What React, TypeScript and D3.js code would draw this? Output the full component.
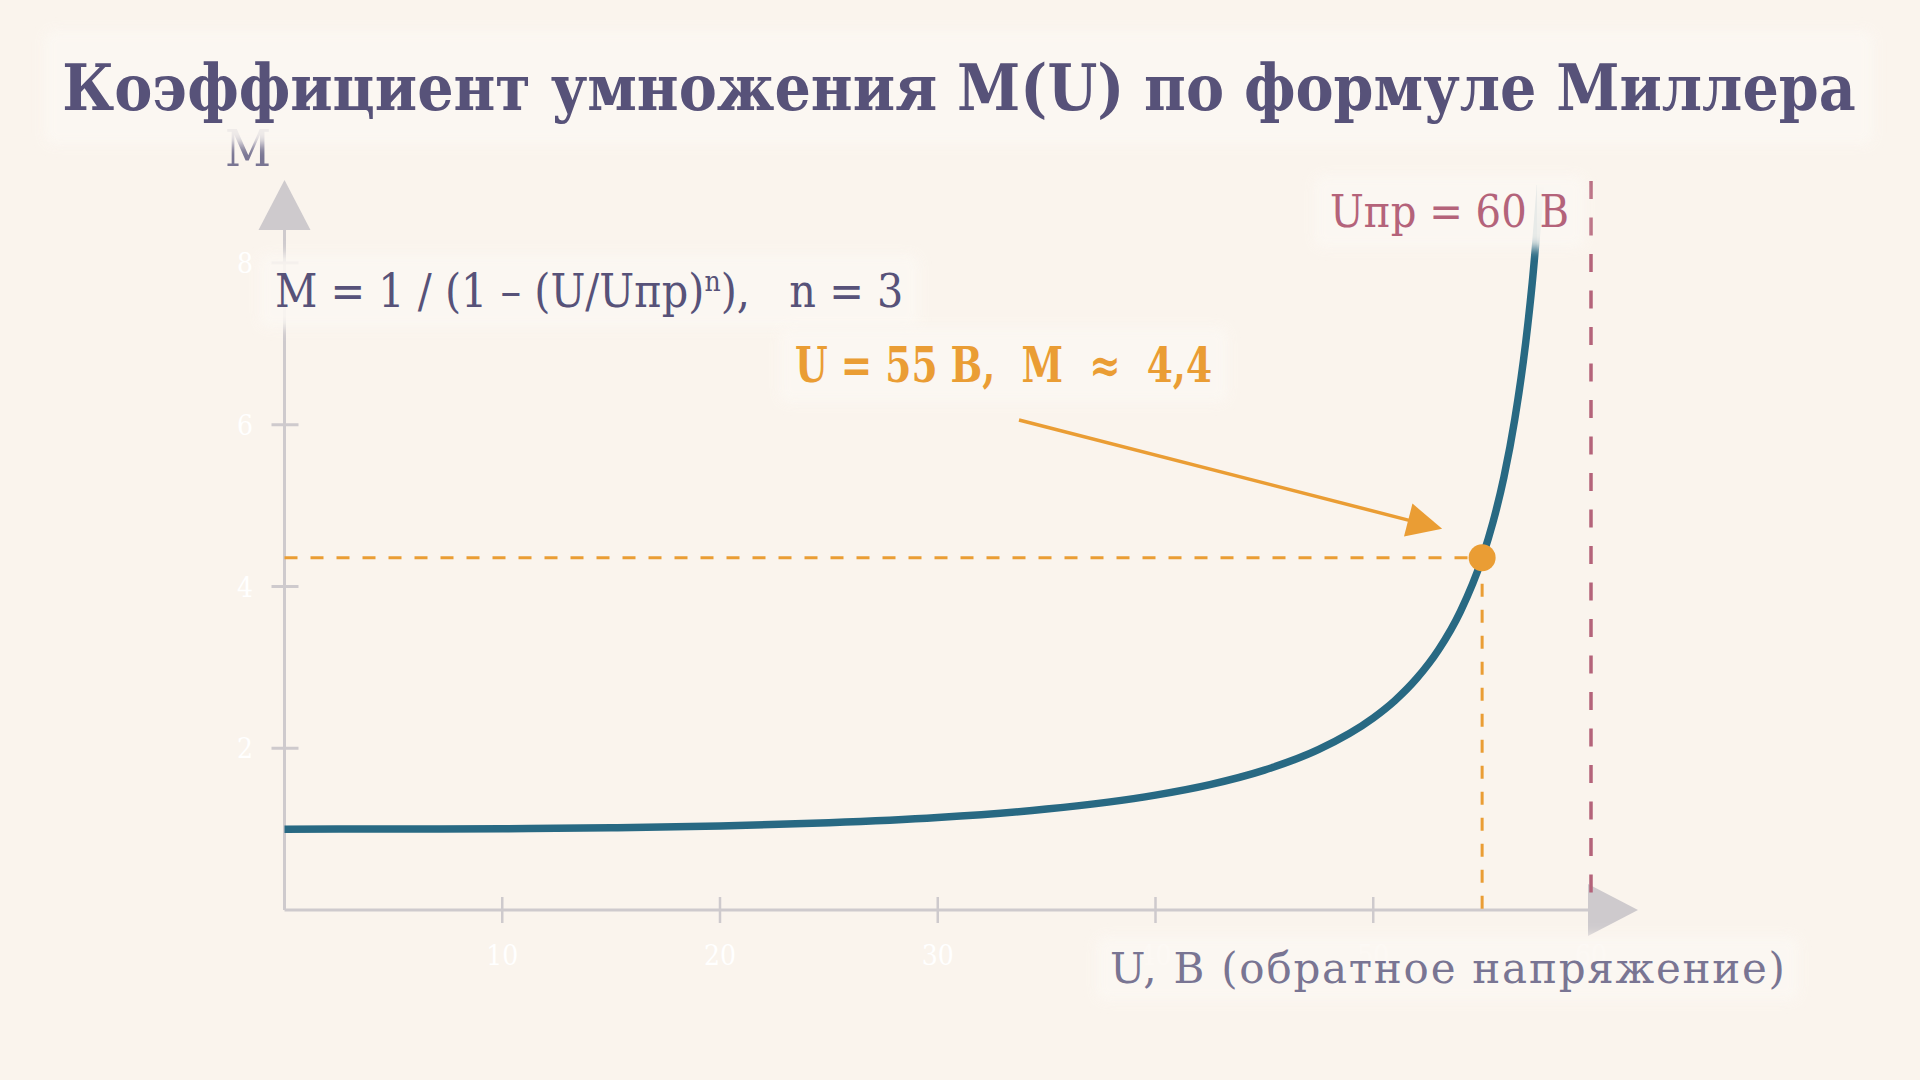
import { useEffect, useRef } from 'react'
import * as d3 from 'd3'

// values: U (volts) and multiplication factor M
const uValues = [0, 5, 10, 15, 20, 25, 30, 35, 40, 42.5, 45, 47.5, 50, 51, 52, 53, 54, 55, 55.5, 56, 56.5, 57, 57.3, 57.7]
const mValues = [1.0, 1.001, 1.005, 1.016, 1.038, 1.078, 1.143, 1.248, 1.421, 1.551, 1.73, 1.985, 2.374, 2.591, 2.865, 3.218, 3.69, 4.351, 4.796, 5.35, 6.068, 7.013, 7.75, 9.03]

const xTicks = [10, 20, 30, 40, 50, 60]
const yTicks = [2, 4, 6, 8]

const markU = [55]
const markM = [4.355]
const breakdownU = [60]

const titleText = 'Коэффициент умножения M(U) по формуле Миллера'
const formulaParts = ['M = 1 / (1 – (U/Uпр)', 'n', '),   n = 3']
const markLabel = 'U = 55 В,  M  ≈  4,4'
const breakdownLabel = 'Uпр = 60 В'
const xAxisLabel = 'U, В (обратное напряжение)'
const yAxisLabel = 'M'

const W = 1920
const H = 1080
const FONT = "'DejaVu Serif', serif"
const FONT_NARROW = "'DejaVu Serif Condensed', 'DejaVu Serif', serif"

const C = {
  bg: '#faf4ed',
  box: '#fcf8f3',
  text: '#575279',
  subtle: '#797593',
  axis: '#cecacd',
  curve: '#286983',
  gold: '#ea9d34',
  love: '#b4637a',
}

type G = d3.Selection<SVGGElement, unknown, null, undefined>
type T = d3.Selection<SVGTextElement, unknown, null, undefined>

export default function App() {
  const svgRef = useRef<SVGSVGElement>(null)

  useEffect(() => {
    if (!svgRef.current) return
    const svg = d3.select(svgRef.current)
    svg.selectAll('*').remove()

    const x = d3.scaleLinear().domain([0, 60]).range([284.5, 1591])
    const y = d3.scaleLinear().domain([0, 8]).range([910, 263])

    const defs = svg.append('defs')
    defs
      .append('filter')
      .attr('id', 'halo')
      .attr('x', '-20%')
      .attr('y', '-40%')
      .attr('width', '140%')
      .attr('height', '180%')
      .append('feGaussianBlur')
      .attr('stdDeviation', 6)
    defs
      .append('clipPath')
      .attr('id', 'plot-clip')
      .append('rect')
      .attr('x', x(0) - 10)
      .attr('y', 185)
      .attr('width', x(60) - x(0) + 20)
      .attr('height', y(0) - 185 + 10)

    const topFade = defs
      .append('linearGradient')
      .attr('id', 'top-fade')
      .attr('x1', 0)
      .attr('x2', 0)
      .attr('y1', 0)
      .attr('y2', 1)
    topFade.append('stop').attr('offset', '0%').attr('stop-color', '#eff0ec').attr('stop-opacity', 1)
    topFade.append('stop').attr('offset', '100%').attr('stop-color', '#eff0ec').attr('stop-opacity', 0)

    svg.append('rect').attr('width', W).attr('height', H).attr('fill', C.bg)

    // axes
    const axisG = svg.append('g')
    axisG
      .append('line')
      .attr('x1', x(0))
      .attr('x2', 1588)
      .attr('y1', y(0))
      .attr('y2', y(0))
      .attr('stroke', C.axis)
      .attr('stroke-width', 3)
    axisG
      .append('line')
      .attr('x1', x(0))
      .attr('x2', x(0))
      .attr('y1', y(0))
      .attr('y2', 230)
      .attr('stroke', C.axis)
      .attr('stroke-width', 3)

    axisG
      .selectAll('.xtick')
      .data(xTicks)
      .enter()
      .append('line')
      .attr('x1', (d) => x(d))
      .attr('x2', (d) => x(d))
      .attr('y1', y(0) - 13)
      .attr('y2', y(0) + 13)
      .attr('stroke', C.axis)
      .attr('stroke-width', 2.5)

    axisG
      .selectAll('.ytick')
      .data(yTicks)
      .enter()
      .append('line')
      .attr('x1', x(0) - 13)
      .attr('x2', x(0) + 14)
      .attr('y1', (d) => y(d))
      .attr('y2', (d) => y(d))
      .attr('stroke', C.axis)
      .attr('stroke-width', 3)

    axisG
      .append('path')
      .attr('d', `M${1588},${y(0) - 26} L${1638},${y(0)} L${1588},${y(0) + 26} Z`)
      .attr('fill', C.axis)
    axisG
      .append('path')
      .attr('d', `M${x(0) - 26},230 L${x(0)},180 L${x(0) + 26},230 Z`)
      .attr('fill', C.axis)

    axisG
      .selectAll('.xlabel')
      .data(xTicks)
      .enter()
      .append('text')
      .attr('x', (d) => x(d))
      .attr('y', 965)
      .attr('text-anchor', 'middle')
      .style('font-family', FONT_NARROW)
      .style('font-size', '28px')
      .style('fill', '#ffffff')
      .text((d) => d)

    axisG
      .selectAll('.ylabel')
      .data(yTicks)
      .enter()
      .append('text')
      .attr('x', 253)
      .attr('y', (d) => y(d) + 10)
      .attr('text-anchor', 'end')
      .style('font-family', FONT_NARROW)
      .style('font-size', '28px')
      .style('fill', '#ffffff')
      .text((d) => d)

    // guide lines to the marked point
    svg
      .append('line')
      .attr('x1', x(0))
      .attr('x2', x(markU[0]))
      .attr('y1', y(markM[0]))
      .attr('y2', y(markM[0]))
      .attr('stroke', C.gold)
      .attr('stroke-width', 3)
      .attr('stroke-dasharray', '13,13')
    svg
      .append('line')
      .attr('x1', x(markU[0]))
      .attr('x2', x(markU[0]))
      .attr('y1', y(markM[0]))
      .attr('y2', y(0))
      .attr('stroke', C.gold)
      .attr('stroke-width', 3)
      .attr('stroke-dasharray', '13,13')

    // curve
    const points = uValues.map((u, i) => [u, mValues[i]] as [number, number])
    const line = d3
      .line<[number, number]>()
      .x((d) => x(d[0]))
      .y((d) => y(d[1]))
      .curve(d3.curveMonotoneX)
    svg
      .append('path')
      .datum(points)
      .attr('clip-path', 'url(#plot-clip)')
      .attr('d', line)
      .attr('fill', 'none')
      .attr('stroke', C.curve)
      .attr('stroke-width', 7.5)

    // breakdown voltage
    svg
      .append('line')
      .attr('x1', x(breakdownU[0]))
      .attr('x2', x(breakdownU[0]))
      .attr('y1', 181)
      .attr('y2', y(0))
      .attr('stroke', C.love)
      .attr('stroke-width', 3.5)
      .attr('stroke-dasharray', '18,18.5')

    // annotation arrow
    const start: [number, number] = [1019, 420]
    const tip: [number, number] = [x(markU[0]) - 40, y(markM[0]) - 29]
    const dx = tip[0] - start[0]
    const dy = tip[1] - start[1]
    const len = Math.hypot(dx, dy)
    const ux = dx / len
    const uy = dy / len
    const headL = 35
    const headW = 17
    const base: [number, number] = [tip[0] - ux * headL, tip[1] - uy * headL]
    svg
      .append('line')
      .attr('x1', start[0])
      .attr('y1', start[1])
      .attr('x2', base[0] + ux * 4)
      .attr('y2', base[1] + uy * 4)
      .attr('stroke', C.gold)
      .attr('stroke-width', 3.5)
    svg
      .append('path')
      .attr(
        'd',
        `M${tip[0]},${tip[1]} L${base[0] - uy * headW},${base[1] + ux * headW} L${base[0] + uy * headW},${base[1] - ux * headW} Z`
      )
      .attr('fill', C.gold)

    svg
      .append('circle')
      .attr('cx', x(markU[0]))
      .attr('cy', y(markM[0]))
      .attr('r', 13.5)
      .attr('fill', C.gold)

    // y axis name
    svg
      .append('text')
      .attr('x', 248)
      .attr('y', 166)
      .attr('text-anchor', 'middle')
      .style('font-family', FONT_NARROW)
      .style('font-size', '50px')
      .style('fill', C.subtle)
      .text(yAxisLabel)

    // faded top end of the curve
    const topX = x(uValues[uValues.length - 1])
    svg
      .append('rect')
      .attr('x', topX - 4)
      .attr('y', 185)
      .attr('width', 24)
      .attr('height', 70)
      .attr('fill', 'url(#top-fade)')

    // labels with soft background boxes
    const labelLayer = svg.append('g')
    const addLabel = (build: (g: G) => T, padX: number, padY: number) => {
      const g = labelLayer.append('g')
      const boxSel = g.append('rect')
      const t = build(g)
      const bb = (t.node() as SVGTextElement).getBBox()
      boxSel
        .attr('x', bb.x - padX)
        .attr('y', bb.y - padY)
        .attr('width', bb.width + padX * 2)
        .attr('height', bb.height + padY * 2)
        .attr('rx', 10)
        .attr('fill', C.box)
        .attr('opacity', 0.9)
        .attr('filter', 'url(#halo)')
    }

    addLabel(
      (g) =>
        g
          .append('text')
          .attr('x', 959)
          .attr('y', 110)
          .attr('text-anchor', 'middle')
          .style('font-family', FONT_NARROW)
          .style('font-weight', 'bold')
          .style('font-size', '63.5px')
          .style('fill', C.text)
          .text(titleText),
      18,
      20
    )

    addLabel(
      (g) => {
        const t = g
          .append('text')
          .attr('x', 275)
          .attr('y', 307)
          .style('font-family', FONT_NARROW)
          .style('font-size', '46px')
          .style('fill', C.text)
          .style('white-space', 'pre')
        t.append('tspan').text(formulaParts[0])
        t.append('tspan').attr('dy', -16).style('font-size', '28px').text(formulaParts[1])
        t.append('tspan').attr('dy', 16).text(formulaParts[2])
        return t
      },
      16,
      10
    )

    addLabel(
      (g) =>
        g
          .append('text')
          .attr('x', 795)
          .attr('y', 382)
          .attr('textLength', 417)
          .attr('lengthAdjust', 'spacingAndGlyphs')
          .style('font-family', FONT)
          .style('font-weight', 'bold')
          .style('font-size', '48px')
          .style('fill', C.gold)
          .style('white-space', 'pre')
          .text(markLabel),
      16,
      10
    )

    addLabel(
      (g) =>
        g
          .append('text')
          .attr('x', 1330)
          .attr('y', 227)
          .attr('textLength', 239)
          .attr('lengthAdjust', 'spacingAndGlyphs')
          .style('font-family', FONT_NARROW)
          .style('font-size', '45px')
          .style('fill', C.love)
          .text(breakdownLabel),
      16,
      10
    )

    addLabel(
      (g) =>
        g
          .append('text')
          .attr('x', 1110)
          .attr('y', 983)
          .attr('textLength', 675)
          .attr('lengthAdjust', 'spacing')
          .style('font-family', FONT)
          .style('font-size', '42px')
          .style('fill', C.subtle)
          .text(xAxisLabel),
      14,
      8
    )
  }, [])

  return (
    <svg
      ref={svgRef}
      width={W}
      height={H}
      style={{ position: 'absolute', left: 0, top: 0, display: 'block' }}
    />
  )
}
